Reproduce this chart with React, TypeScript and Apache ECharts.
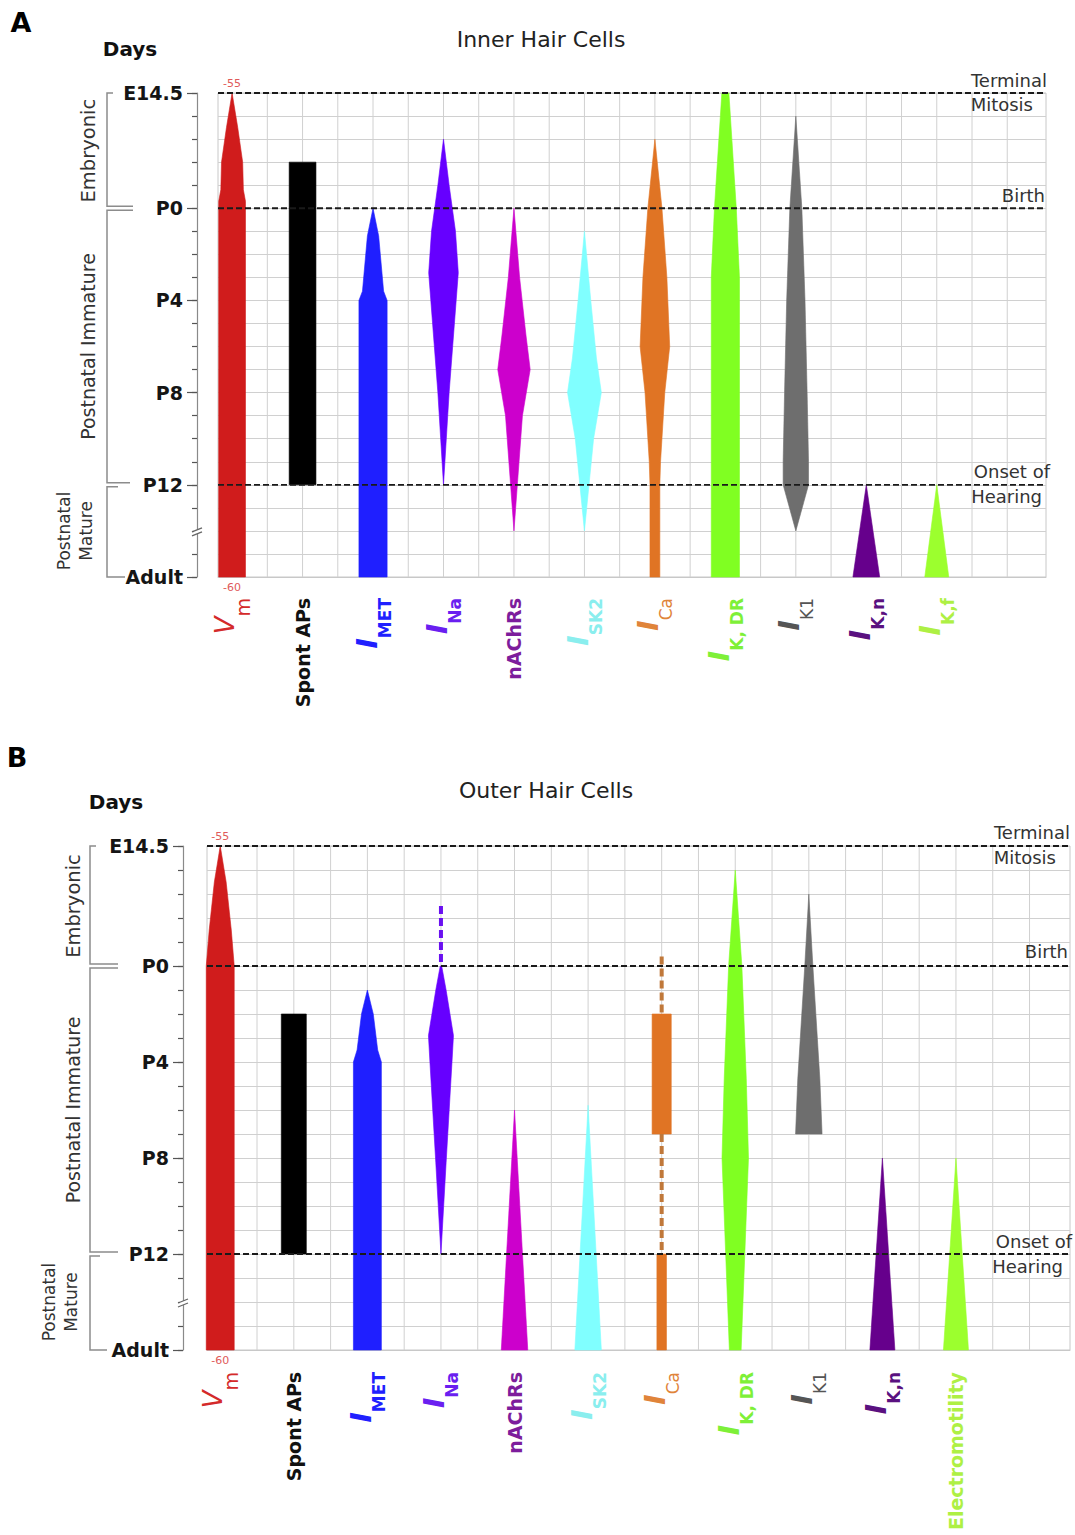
import React, { useEffect, useRef } from 'react';
import * as echarts from 'echarts';

const FONT = 'DejaVu Sans';

// ---- Day axis (days relative to birth: E14.5 = -5, P0 = 0, Adult drawn at 16) ----
const dayTicks = [-5, 0, 4, 8, 12, 16];
const dayLabels = ['E14.5', 'P0', 'P4', 'P8', 'P12', 'Adult'];
const dayMin = -5;
const dayMax = 16;
const axisBreakDay = 14;
const milestoneDays = [-5, 0, 12];
const milestoneAbove = ['Terminal', 'Birth', 'Onset of'];
const milestoneBelow = ['Mitosis', '', 'Hearing'];
const stageNames = ['Embryonic', 'Postnatal Immature', 'Postnatal\nMature'];
const vmTopLabel = '-55';
const vmBottomLabel = '-60';

// ---- Categories ----
const catMainA = ['V', 'Spont APs', 'I', 'I', 'nAChRs', 'I', 'I', 'I', 'I', 'I', 'I'];
const catSubA = ['m', '', 'MET', 'Na', '', 'SK2', 'Ca', 'K, DR', 'K1', 'K,n', 'K,f'];
const catMainB = ['V', 'Spont APs', 'I', 'I', 'nAChRs', 'I', 'I', 'I', 'I', 'I', 'Electromotility'];
const catSubB = ['m', '', 'MET', 'Na', '', 'SK2', 'Ca', 'K, DR', 'K1', 'K,n', ''];
const catLabelColors = ['#d42a2a', '#111111', '#2020ff', '#6a1ff0', '#7d1d9c', '#8aeeee', '#e0843a', '#7ef038', '#555555', '#5a1180', '#aef044'];
const catSubBold = [false, true, true, true, true, true, false, true, false, true, true];
const shapeColors = ['#d01c1c', '#000000', '#1f1fff', '#6600ff', '#cc00cc', '#80ffff', '#e07424', '#80ff22', '#6e6e6e', '#66008c', '#9cff2e'];

// ---- Profiles: [day, half-width in category units] ----
// Panel A: Inner hair cells
const vmA = [[-5, 0], [-3.5, 0.08], [-2, 0.15], [-0.8, 0.16], [-0.3, 0.19], [16, 0.19]];
const spontA = [[-2, 0.19], [12, 0.19]];
const metA = [[0, 0], [1.2, 0.08], [3.6, 0.15], [4, 0.2], [16, 0.2]];
const naA = [[-3, 0], [-1, 0.08], [1, 0.17], [2.8, 0.21], [4, 0.18], [8, 0.08], [12, 0]];
const nachrA = [[0, 0], [3, 0.08], [5.5, 0.17], [7, 0.23], [9, 0.12], [14, 0]];
const sk2A = [[1, 0], [4, 0.09], [6.5, 0.17], [8, 0.24], [10, 0.13], [14, 0]];
const caA = [[-3, 0], [0, 0.1], [3, 0.17], [6, 0.21], [8, 0.14], [11, 0.08], [12, 0.07], [16, 0.07]];
const kdrA = [[-5, 0.05], [0, 0.155], [3, 0.2], [16, 0.2]];
const k1A = [[-4, 0], [0, 0.085], [4, 0.13], [8, 0.16], [11, 0.18], [12, 0.18], [14, 0]];
const knA = [[12, 0], [16, 0.19]];
const kfA = [[12, 0], [16, 0.17]];

// Panel B: Outer hair cells
const vmB = [[-5, 0], [-3.5, 0.08], [-1.5, 0.15], [0, 0.19], [16, 0.19]];
const spontB = [[2, 0.17], [12, 0.17]];
const metB = [[1, 0], [2, 0.08], [3.5, 0.14], [4, 0.19], [16, 0.19]];
const naB = [[0, 0.01], [1, 0.07], [2.9, 0.17], [4, 0.15], [8.2, 0.07], [12, 0]];
const nachrB = [[6, 0], [16, 0.18]];
const sk2B = [[5.8, 0], [16, 0.18]];
const caRectB = [[2, 0.13], [7, 0.13]];
const caMatureB = [[12, 0.065], [16, 0.065]];
const kdrB = [[-4, 0], [0, 0.09], [4.7, 0.15], [8, 0.18], [12, 0.13], [16, 0.08]];
const k1B = [[-3, 0], [0, 0.055], [4.7, 0.15], [7, 0.18]];
const knB = [[8, 0], [16, 0.17]];
const emB = [[8, 0], [16, 0.17]];

const shapesA: [number, number[][]][] = [
  [0, vmA], [1, spontA], [2, metA], [3, naA], [4, nachrA], [5, sk2A],
  [6, caA], [7, kdrA], [8, k1A], [9, knA], [10, kfA],
];
const shapesB: [number, number[][]][] = [
  [0, vmB], [1, spontB], [2, metB], [3, naB], [4, nachrB], [5, sk2B],
  [6, caRectB], [6, caMatureB], [7, kdrB], [8, k1B], [9, knB], [10, emB],
];
// dashed (uncertain) segments: [category, fromDay, toDay]
const dashesB = [[3, -2.5, 0], [6, -0.4, 2], [6, 7, 12]];
const dashColorsB = ['#6a10f0', '#c0783a', '#c0783a'];

// ---- Layout ----
const panels = [
  { left: 218, top: 93, width: 828, height: 484, xMin: -0.2, xMax: 11.55, yOffset: 21, labelMargin: 21 },
  { left: 207, top: 846, width: 863, height: 504, xMin: -0.18, xMax: 11.55, yOffset: 24, labelMargin: 22 },
];

const vGrid: number[] = [];
for (let v = 0; v <= 11; v += 0.5) vGrid.push(v);

function labelRich(subBold: boolean[]) {
  const rich: any = { z: { fontSize: 1, lineHeight: 40, color: 'rgba(0,0,0,0)' } };
  catLabelColors.forEach((c, i) => {
    const isV = i === 0;
    rich['m' + i] = {
      color: c, fontFamily: FONT, fontSize: isV ? 26 : 28, fontStyle: 'italic',
      fontWeight: isV ? 'normal' : 'bold', lineHeight: 20, verticalAlign: 'top',
    };
    rich['s' + i] = {
      color: c, fontFamily: FONT, fontSize: isV ? 19 : 17,
      fontWeight: subBold[i] ? 'bold' : 'normal', lineHeight: 20, verticalAlign: 'bottom',
    };
    rich['t' + i] = { color: c, fontFamily: FONT, fontSize: 19, fontWeight: 'bold', lineHeight: 24 };
  });
  return rich;
}

function xAxisFor(gi: number, mains: string[], subs: string[]) {
  const p = panels[gi];
  return {
    type: 'value', gridIndex: gi, min: p.xMin, max: p.xMax, position: 'bottom',
    axisLine: { show: true, onZero: false, lineStyle: { color: '#c8c8c8', width: 1 } },
    axisTick: { show: false },
    splitLine: { show: false },
    axisLabel: {
      customValues: mains.map((_, i) => i),
      rotate: 90,
      margin: p.labelMargin,
      formatter: (v: number) => {
        const i = Math.round(v);
        return subs[i] ? `{z| }{m${i}|${mains[i]}}{s${i}|${subs[i]}}` : `{t${i}|${mains[i]}}`;
      },
      rich: labelRich(catSubBold),
    },
  };
}

function yAxesFor(gi: number) {
  const p = panels[gi];
  const base = {
    type: 'value', gridIndex: gi, inverse: true, min: dayMin, max: dayMax, interval: 1,
    position: 'left', offset: p.yOffset,
  };
  return [
    {
      ...base,
      axisLine: { show: true, onZero: false, lineStyle: { color: '#8a8a8a', width: 1.2 } },
      axisTick: { show: true, length: 5, lineStyle: { color: '#555', width: 1.2 } },
      axisLabel: {
        customValues: dayTicks,
        margin: 14,
        formatter: (v: number) => dayLabels[dayTicks.indexOf(v)] ?? '',
        fontFamily: FONT, fontWeight: 'bold', fontSize: 19, color: '#151515',
      },
      splitLine: { show: true, lineStyle: { color: '#d0d0d0', width: 1 } },
    },
    {
      ...base,
      axisLine: { show: false, onZero: false },
      axisTick: { show: true, length: 10, customValues: dayTicks, lineStyle: { color: '#555', width: 1.2 } },
      axisLabel: { show: false },
      splitLine: { show: false },
    },
  ];
}

function polyRender(list: [number, number[][]][]) {
  return (params: any, api: any) => {
    const [k, prof] = list[params.dataIndex];
    const pts: number[][] = [];
    prof.forEach((p) => pts.push(api.coord([k - p[1], p[0]])));
    for (let i = prof.length - 1; i >= 0; i--) pts.push(api.coord([k + prof[i][1], prof[i][0]]));
    const c = shapeColors[k];
    return { type: 'polygon', shape: { points: pts }, style: { fill: c, stroke: c, lineWidth: 0.6 } };
  };
}

function gridLineRender(params: any, api: any) {
  const v = api.value(0);
  const a = api.coord([v, dayMin]);
  const b = api.coord([v, dayMax]);
  return { type: 'line', shape: { x1: a[0], y1: a[1], x2: b[0], y2: b[1] }, style: { stroke: '#d0d0d0', lineWidth: 1 } };
}

function refLineRender(gi: number) {
  const p = panels[gi];
  return (params: any, api: any) => {
    const d = api.value(1);
    const a = api.coord([p.xMin, d]);
    const b = api.coord([p.xMax, d]);
    return {
      type: 'line', shape: { x1: a[0], y1: a[1], x2: b[0], y2: b[1] },
      style: { stroke: '#1a1a1a', lineWidth: 1.8, lineDash: [6, 3] },
    };
  };
}

function dashRender(params: any, api: any) {
  const seg = dashesB[params.dataIndex];
  const a = api.coord([seg[0], seg[1]]);
  const b = api.coord([seg[0], seg[2]]);
  return {
    type: 'line', shape: { x1: a[0], y1: a[1], x2: b[0], y2: b[1] },
    style: { stroke: dashColorsB[params.dataIndex], lineWidth: 4, lineDash: [8, 4] },
  };
}

function buildOption() {
  const [yA0, yA1] = yAxesFor(0);
  const [yB0, yB1] = yAxesFor(1);
  return {
    animation: false,
    grid: panels.map((p) => ({
      left: p.left, top: p.top, width: p.width, height: p.height,
      show: true, borderColor: '#c8c8c8', borderWidth: 1, containLabel: false, outerBoundsMode: 'none',
    })),
    xAxis: [xAxisFor(0, catMainA, catSubA), xAxisFor(1, catMainB, catSubB)],
    yAxis: [yA0, yA1, yB0, yB1],
    series: [
      { type: 'custom', xAxisIndex: 0, yAxisIndex: 0, z: 1, silent: true, renderItem: gridLineRender, data: vGrid.map((v) => [v, dayMin]) },
      { type: 'custom', xAxisIndex: 0, yAxisIndex: 0, z: 2, renderItem: polyRender(shapesA), data: shapesA.map((s) => [s[0], s[1][0][0]]) },
      { type: 'custom', xAxisIndex: 0, yAxisIndex: 0, z: 4, silent: true, renderItem: refLineRender(0), data: milestoneDays.map((d) => [0, d]) },
      { type: 'custom', xAxisIndex: 1, yAxisIndex: 2, z: 1, silent: true, renderItem: gridLineRender, data: vGrid.map((v) => [v, dayMin]) },
      { type: 'custom', xAxisIndex: 1, yAxisIndex: 2, z: 2, renderItem: polyRender(shapesB), data: shapesB.map((s) => [s[0], s[1][0][0]]) },
      { type: 'custom', xAxisIndex: 1, yAxisIndex: 2, z: 3, renderItem: dashRender, data: dashesB.map((s) => [s[0], s[1]]) },
      { type: 'custom', xAxisIndex: 1, yAxisIndex: 2, z: 4, silent: true, renderItem: refLineRender(1), data: milestoneDays.map((d) => [0, d]) },
    ],
  };
}

const panelCfg = [
  {
    si: 1, letter: 'A', letterPos: [21, 22], title: 'Inner Hair Cells', titlePos: [541, 39], daysPos: [130, 49],
    axisX: 197, bx: 107, eTop: 113, e0: 133, e12: 130, eMat: 118, eA: 125, stageX: 88, matureX: 75,
    annotRight: [[1047, 1033], [1045, 0], [1050, 1042]], annotDy: [[-13, 11], [-13, 0], [-13, 12]],
  },
  {
    si: 4, letter: 'B', letterPos: [17, 757], title: 'Outer Hair Cells', titlePos: [546, 790], daysPos: [116, 802],
    axisX: 183, bx: 90, eTop: 96, e0: 118, e12: 118, eMat: 100, eA: 107, stageX: 73, matureX: 60,
    annotRight: [[1070, 1056], [1068, 0], [1072, 1063]], annotDy: [[-14, 11], [-15, 0], [-13, 12]],
  },
];

function panelGraphic(chart: any, g: any) {
  const P = (k: number, d: number) => chart.convertToPixel({ seriesIndex: g.si }, [k, d]);
  const y = (d: number) => P(0, d)[1];
  const yE = y(dayTicks[0]);
  const y0 = y(dayTicks[1]);
  const y12 = y(dayTicks[4]);
  const yAd = y(dayTicks[5]);
  const yBr = y(axisBreakDay);
  const x0 = P(0, 0)[0];
  const els: any[] = [];
  const txt = (text: string, x: number, yy: number, size: number, o: any = {}) => ({
    type: 'text', x, y: yy, rotation: o.rot || 0, z: 10,
    style: {
      text, fill: o.color || '#222', fontFamily: FONT, fontSize: size,
      fontWeight: o.bold ? 'bold' : 'normal', align: o.align || 'center', verticalAlign: 'middle',
      lineHeight: o.lh,
    },
  });
  const line = (pts: number[][]) => ({
    type: 'polyline', z: 10, shape: { points: pts }, style: { stroke: '#8c8c8c', lineWidth: 1.5, fill: null },
  });
  els.push(txt(g.letter, g.letterPos[0], g.letterPos[1], 27, { bold: true, color: '#000' }));
  els.push(txt(g.title, g.titlePos[0], g.titlePos[1], 22, { color: '#222' }));
  els.push(txt('Days', g.daysPos[0], g.daysPos[1], 20, { bold: true, color: '#111' }));
  // stage brackets
  els.push(line([[g.eTop, yE], [g.bx, yE], [g.bx, y0 - 2], [g.e0, y0 - 2]]));
  els.push(line([[g.e0, y0 + 2], [g.bx, y0 + 2], [g.bx, y12 - 2], [g.e12, y12 - 2]]));
  els.push(line([[g.eMat, y12 + 2], [g.bx, y12 + 2], [g.bx, yAd], [g.eA, yAd]]));
  els.push(txt(stageNames[0], g.stageX, (yE + y0) / 2, 19.5, { rot: Math.PI / 2, color: '#333' }));
  els.push(txt(stageNames[1], g.stageX, (y0 + y12) / 2, 19, { rot: Math.PI / 2, color: '#333' }));
  els.push(txt(stageNames[2], g.matureX, (y12 + yAd) / 2, 17, { rot: Math.PI / 2, color: '#333', lh: 22 }));
  // axis break mark
  els.push({ type: 'rect', z: 10, shape: { x: g.axisX - 3, y: yBr - 1, width: 6, height: 4 }, style: { fill: '#fff' } });
  els.push({ type: 'line', z: 11, shape: { x1: g.axisX - 5, y1: yBr + 1, x2: g.axisX + 5, y2: yBr - 3 }, style: { stroke: '#666', lineWidth: 1.2 } });
  els.push({ type: 'line', z: 11, shape: { x1: g.axisX - 5, y1: yBr + 5, x2: g.axisX + 5, y2: yBr + 1 }, style: { stroke: '#666', lineWidth: 1.2 } });
  // Vm range labels
  els.push(txt(vmTopLabel, x0, yE - 10, 11, { color: '#e05a5a' }));
  els.push(txt(vmBottomLabel, x0, yAd + 10, 11, { color: '#e05a5a' }));
  // milestone annotations
  milestoneDays.forEach((d, i) => {
    const yy = y(d);
    els.push(txt(milestoneAbove[i], g.annotRight[i][0], yy + g.annotDy[i][0], 18, { align: 'right', color: '#333' }));
    if (milestoneBelow[i]) {
      els.push(txt(milestoneBelow[i], g.annotRight[i][1], yy + g.annotDy[i][1], 18, { align: 'right', color: '#333' }));
    }
  });
  return els;
}

export default function App() {
  const ref = useRef<HTMLDivElement>(null);
  useEffect(() => {
    document.body.style.margin = '0';
    const chart = echarts.init(ref.current!, null, { renderer: 'svg' });
    chart.setOption(buildOption() as any);
    const graphics = [...panelGraphic(chart, panelCfg[0]), ...panelGraphic(chart, panelCfg[1])];
    chart.setOption({ graphic: graphics } as any);
    return () => chart.dispose();
  }, []);
  return <div ref={ref} style={{ width: 1075, height: 1535, background: '#fff' }} />;
}
